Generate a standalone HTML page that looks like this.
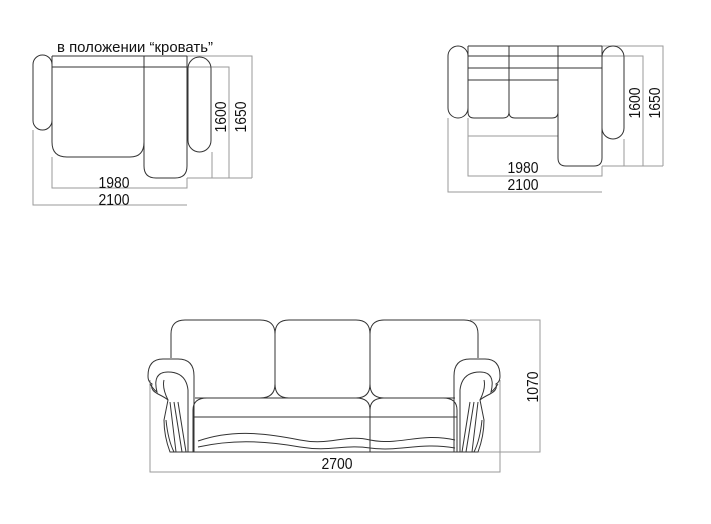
<!DOCTYPE html>
<html><head><meta charset="utf-8"><style>
html,body{margin:0;padding:0;background:#fff;width:711px;height:524px;overflow:hidden}
svg{display:block}
text{font-family:"Liberation Sans",sans-serif;fill:#111}
</style></head><body>
<svg width="711" height="524" viewBox="0 0 711 524" xmlns="http://www.w3.org/2000/svg">
<g fill="none" stroke="#9a9a9a" stroke-width="1">
 <path d="M187 67 H229 V178 M187 56 H252 V178 M187 178 H252 M212 152 V178"/>
 <path d="M52 157 V188 H187 V178 M33 130 V205 H187"/>
 <path d="M602 46 H663 V166 M602 56 H643 V166 M602 166 H663 M624 139 V166"/>
 <path d="M468 118 V176 H602 V166 M448 118 V192 H602 M468 136 H558" />
 <path d="M470 320 H540 V452 H478 M150 380 V472 H500 V380"/>
</g>
<g fill="none" stroke="#333" stroke-width="1">
 <rect x="33" y="55" width="19" height="75" rx="9.5"/>
 <path d="M52 56 H187 M52 67 H187"/>
 <path d="M52 56 V142 Q52 157 67 157 H130 Q144 157 144 142 V56"/>
 <path d="M144 67 V166 Q144 178 156 178 H175 Q187 178 187 166 V56"/>
 <rect x="188" y="57" width="23" height="95" rx="11.5"/>
 <rect x="448" y="46" width="20" height="72" rx="10"/>
 <path d="M468 46 H602 M468 56 H602 M468 68 H602 M468 80 H558"/>
 <path d="M468 46 V112 Q468 118 474 118 H503 Q509 118 509 112 V46"/>
 <path d="M509 112 Q509 118 515 118 H552 Q558 118 558 112 V46"/>
 <path d="M558 46 V158 Q558 166 566 166 H594 Q602 166 602 158 V46"/>
 <rect x="602" y="46" width="22" height="93" rx="11"/>
 <path d="M171 358 V334 Q171 320 185 320 H260 Q275 320 275 334 V384 Q275 398 260 398 H195"/>
 <path d="M275 334 Q275 320 289 320 H356 Q370 320 370 334 V384 Q370 398 356 398 H289 Q275 398 275 384"/>
 <path d="M370 334 Q370 320 384 320 H464 Q478 320 478 334 V358 M370 384 Q370 398 384 398 H455"/>
 <path d="M193 452 V410 Q193 398 207 398 H356 Q370 398 370 410 Q370 398 384 398 H443 Q457 398 457 410 V452"/>
 <path d="M193 417 H457 M370 410 V452 M187 452 H463"/>
 <path d="M198 441 C230 430 260 432 300 440 C330 446 345 434 370 440 C400 446 420 432 455 440"/>
 <path d="M198 447 C230 440 260 440 300 447 C330 452 345 444 370 448 C400 452 420 442 455 448"/>
 <g id="arm">
  <path d="M194 452 V376 Q194 359 178 359 H163 Q148 359 148 376 Q148 382 152 384 Q150 390 158 394 Q166 398 168 400 L164 420 Q164 436 170 452 H194"/>
  <path d="M150 384 Q154 390 157 392 Q152 372 168 372 Q186 372 188 390 V452"/>
  <path d="M168 400 Q162 388 164 380 M170 402 L176 452 M174 402 L182 452 M178 402 L186 452 M166 420 Q168 440 174 452"/>
 </g>
 <use href="#arm" transform="translate(648,0) scale(-1,1)"/>
</g>
<text x="57" y="52" font-size="15" textLength="156" lengthAdjust="spacingAndGlyphs">в положении “кровать”</text>
<g font-size="16" text-anchor="middle">
 <text x="114" y="188" textLength="31" lengthAdjust="spacingAndGlyphs">1980</text>
 <text x="114" y="205" textLength="31" lengthAdjust="spacingAndGlyphs">2100</text>
 <text x="523" y="173" textLength="31" lengthAdjust="spacingAndGlyphs">1980</text>
 <text x="523" y="190" textLength="31" lengthAdjust="spacingAndGlyphs">2100</text>
 <text x="337" y="469" textLength="31" lengthAdjust="spacingAndGlyphs">2700</text>
 <text transform="translate(226,117) rotate(-90)" textLength="31" lengthAdjust="spacingAndGlyphs">1600</text>
 <text transform="translate(246,117) rotate(-90)" textLength="31" lengthAdjust="spacingAndGlyphs">1650</text>
 <text transform="translate(640,103) rotate(-90)" textLength="31" lengthAdjust="spacingAndGlyphs">1600</text>
 <text transform="translate(660,103) rotate(-90)" textLength="31" lengthAdjust="spacingAndGlyphs">1650</text>
 <text transform="translate(538,387) rotate(-90)" textLength="31" lengthAdjust="spacingAndGlyphs">1070</text>
</g>
</svg>
</body></html>
